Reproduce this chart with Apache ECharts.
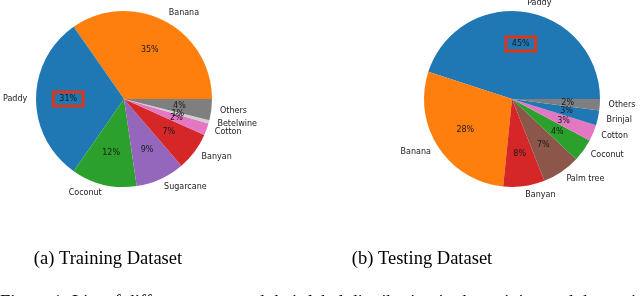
<!DOCTYPE html>
<html><head><meta charset="utf-8">
<script src="https://cdn.jsdelivr.net/npm/echarts@6/dist/echarts.min.js"></script>
<style>html,body{margin:0;padding:0;background:#fff}#c{width:640px;height:296px}</style>
</head><body><div id="c"></div>
<script>
// ---- data ----
const trainCrops = ['Banana','Paddy','Coconut','Sugarcane','Banyan','Cotton','Betelwine','Others'];
const trainShares = [34.7, 30.6, 12, 9, 7, 2.2, 0.6, 3.9];
const testCrops = ['Paddy','Banana','Banyan','Palm tree','Coconut','Cotton','Brinjal','Others'];
const testShares = [45, 28.4, 7.6, 7, 4.2, 3, 2.7, 2.1];
const captions = ['(a) Training Dataset', '(b) Testing Dataset'];
const figureCaption = 'Figure 1: List of different crops and their label distribution in the training and the testing datasets';
const highlighted = 'Paddy';

// ---- styles ----
const palette = {Banana:'#ff7f0e', Paddy:'#1f77b4', Coconut:'#2ca02c', Sugarcane:'#9467bd', Banyan:'#d62728',
  Cotton:'#e377c2', Betelwine:'#d0d0d0', Others:'#7f7f7f', 'Palm tree':'#8c564b', Brinjal:'#1f77b4'};
const R = 88, CY = 99;
const labelFont = {fontFamily:'DejaVu Sans', fontSize:8, color:'#1a1a1a'};

function pieSeries(names, values, cx) {
  const total = values.reduce((a, b) => a + b, 0);
  const base = {type:'pie', center:[cx, CY], startAngle:0, clockwise:false, silent:true,
    animation:false, avoidLabelOverlap:false, emphasis:{disabled:true},
    labelLayout:{hideOverlap:false}, minShowLabelAngle:0};
  const main = Object.assign({}, base, {
    radius:[0, R],
    itemStyle:{borderWidth:0},
    data: names.map((n, i) => ({name:n, value:values[i], itemStyle:{color:palette[n], borderWidth:0}})),
    label: Object.assign({show:true, position:'outside', formatter:'{b}', distanceToLabelLine:0}, labelFont),
    labelLine:{show:false, length:R*0.1, length2:0}
  });
  const pct = Object.assign({}, base, {
    radius:[0, R*1.2],
    itemStyle:{borderWidth:0},
    data: names.map((n, i) => ({name:n, value:values[i], itemStyle:{color:'rgba(0,0,0,0)', borderWidth:0},
      label: n === highlighted ? {borderColor:'#d9381e', borderWidth:3, padding:[3,6]} : {}})),
    label: Object.assign({show:true, position:'inside', textBorderWidth:0,
      formatter: p => Math.round(p.value / total * 100) + '%'}, labelFont),
    labelLine:{show:false}
  });
  return [main, pct];
}

const chart = echarts.init(document.getElementById('c'), null, {renderer:'canvas'});
const capFont = {fontFamily:'Liberation Serif', fontSize:18.5, fill:'#000'};
chart.setOption({
  animation:false,
  series: [].concat(pieSeries(trainCrops, trainShares, 124), pieSeries(testCrops, testShares, 512)),
  graphic: [
    {type:'text', x:108, y:259, style:Object.assign({text:captions[0], align:'center', verticalAlign:'middle'}, capFont)},
    {type:'text', x:422, y:259, style:Object.assign({text:captions[1], align:'center', verticalAlign:'middle'}, capFont)},
    {type:'text', x:0, y:303, style:Object.assign({text:figureCaption, align:'left', verticalAlign:'middle'}, capFont)}
  ]
});
</script></body></html>
